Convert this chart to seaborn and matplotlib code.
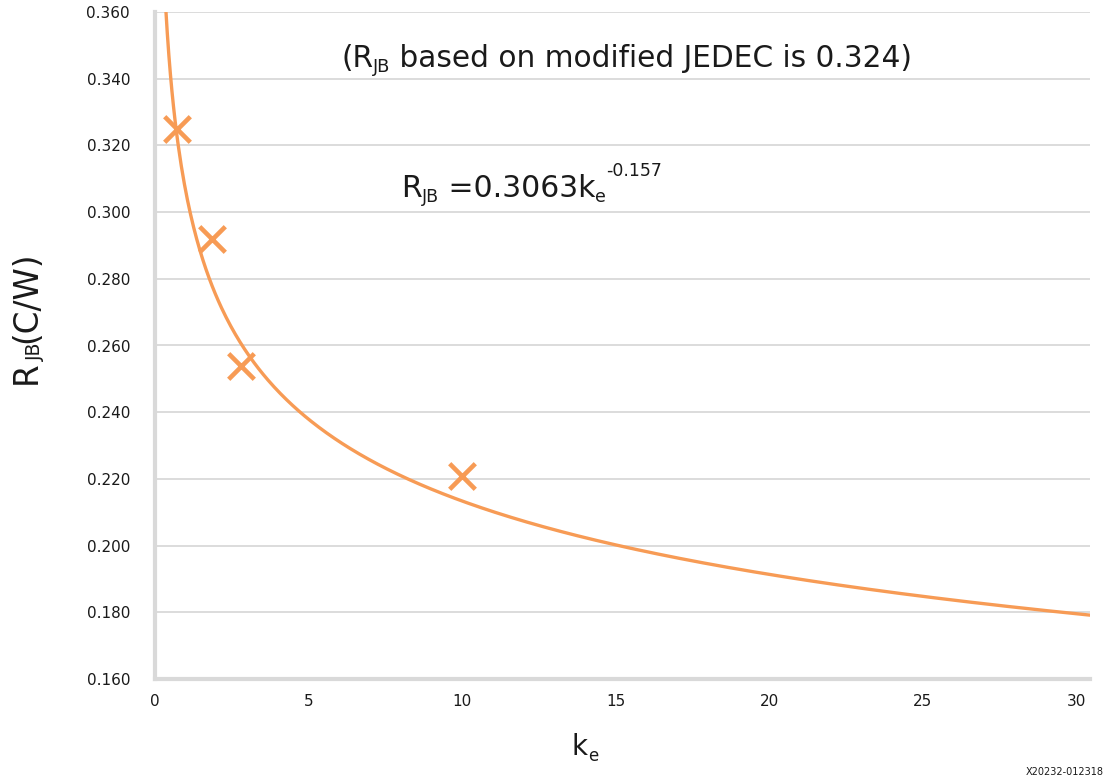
import numpy as np
import pandas as pd
import matplotlib
matplotlib.use("Agg")
import matplotlib.pyplot as plt
import seaborn as sns

# Measured points (effective conductivity k_e vs. junction-to-board resistance)
ke_points = [0.72, 1.86, 2.8, 10.0]
rjb_points = [0.325, 0.292, 0.254, 0.221]

# Power-law trend line R_JB = A * k_e ** B
fit_a = 0.3063
fit_b = -0.157

y_ticks = [0.160, 0.180, 0.200, 0.220, 0.240, 0.260, 0.280, 0.300, 0.320, 0.340, 0.360]
x_ticks = [0, 5, 10, 15, 20, 25, 30]

ORANGE = "#F79B55"
GRID = "#D9D9D9"
INK = "#1a1a1a"
W, H = 1110, 781

sns.set_theme(style="white")
plt.rcParams["font.family"] = ["DejaVu Sans"]

fig = plt.figure(figsize=(W / 100, H / 100), dpi=100)
ax = fig.add_axes([155 / W, 1 - 679 / H, (1090 - 155) / W, (679 - 12) / H])

ke_curve = np.linspace(0.3, 30.5, 600)
trend = pd.DataFrame({"ke": ke_curve, "rjb": fit_a * ke_curve ** fit_b})
pts = pd.DataFrame({"ke": ke_points, "rjb": rjb_points})

sns.lineplot(data=trend, x="ke", y="rjb", ax=ax, color=ORANGE, lw=2.4, zorder=3)
sns.scatterplot(data=pts, x="ke", y="rjb", ax=ax, marker="x", s=340,
                color=ORANGE, linewidth=3.3, zorder=4)

ax.set_xlim(0, 30.45)
ax.set_ylim(0.160, 0.360)
ax.set_yticks(y_ticks)
ax.set_yticklabels([f"{v:.3f}" for v in y_ticks])
ax.set_xticks(x_ticks)
ax.set_xticklabels([str(v) for v in x_ticks])

ax.grid(axis="y", color=GRID, lw=1.3)
ax.grid(axis="x", visible=False)
ax.set_axisbelow(True)
for side in ("top", "right"):
    ax.spines[side].set_visible(False)
for side in ("left", "bottom"):
    ax.spines[side].set_color(GRID)
    ax.spines[side].set_linewidth(3)
ax.tick_params(axis="both", length=0, labelsize=11, colors=INK)
ax.tick_params(axis="y", pad=18)
ax.tick_params(axis="x", pad=11)
ax.set_xlabel("")
ax.set_ylabel("")

renderer = fig.canvas.get_renderer()


def advance(s, size):
    """Horizontal advance of a string in pixels, trailing/leading spaces included."""
    a = fig.text(0, 0, "|" + s + "|", fontsize=size)
    b = fig.text(0, 0, "||", fontsize=size)
    w = a.get_window_extent(renderer).width - b.get_window_extent(renderer).width
    a.remove()
    b.remove()
    return w


def rich_text(x, base, segments, vertical=False):
    """Lay out (text, size, baseline shift) runs one after another, pixel coords."""
    pos = 0.0
    for s, size, shift in segments:
        if vertical:
            fig.text((x + shift) / W, 1 - (base - pos) / H, s, fontsize=size,
                     rotation=90, rotation_mode="anchor", ha="left", va="baseline",
                     color=INK)
        else:
            fig.text((x + pos) / W, 1 - (base + shift) / H, s, fontsize=size,
                     ha="left", va="baseline", color=INK)
        pos += advance(s, size)


# Axis titles
rich_text(572, 755, [("k", 20, 0), ("e", 12, 6)])
rich_text(36, 384, [("R", 23.5, 0), ("JB", 13.5, 5), ("(C/W)", 23.5, 0)], vertical=True)

# Annotations
rich_text(341, 67, [("(R", 21.3, 0), ("JB", 12.8, 5), (" based on modified JEDEC is 0.324)", 21.3, 0)])
rich_text(401, 197, [("R", 21.5, 0), ("JB", 12.5, 5), (" =0.3063k", 21.5, 0),
                     ("e", 12.5, 5), ("-0.157", 12.5, -21)])

fig.text(1104 / W, 1 - 772 / H, "X20232-012318", fontsize=7, ha="right",
         va="center", color=INK)

fig.savefig("out.png", dpi=100, facecolor="white")
